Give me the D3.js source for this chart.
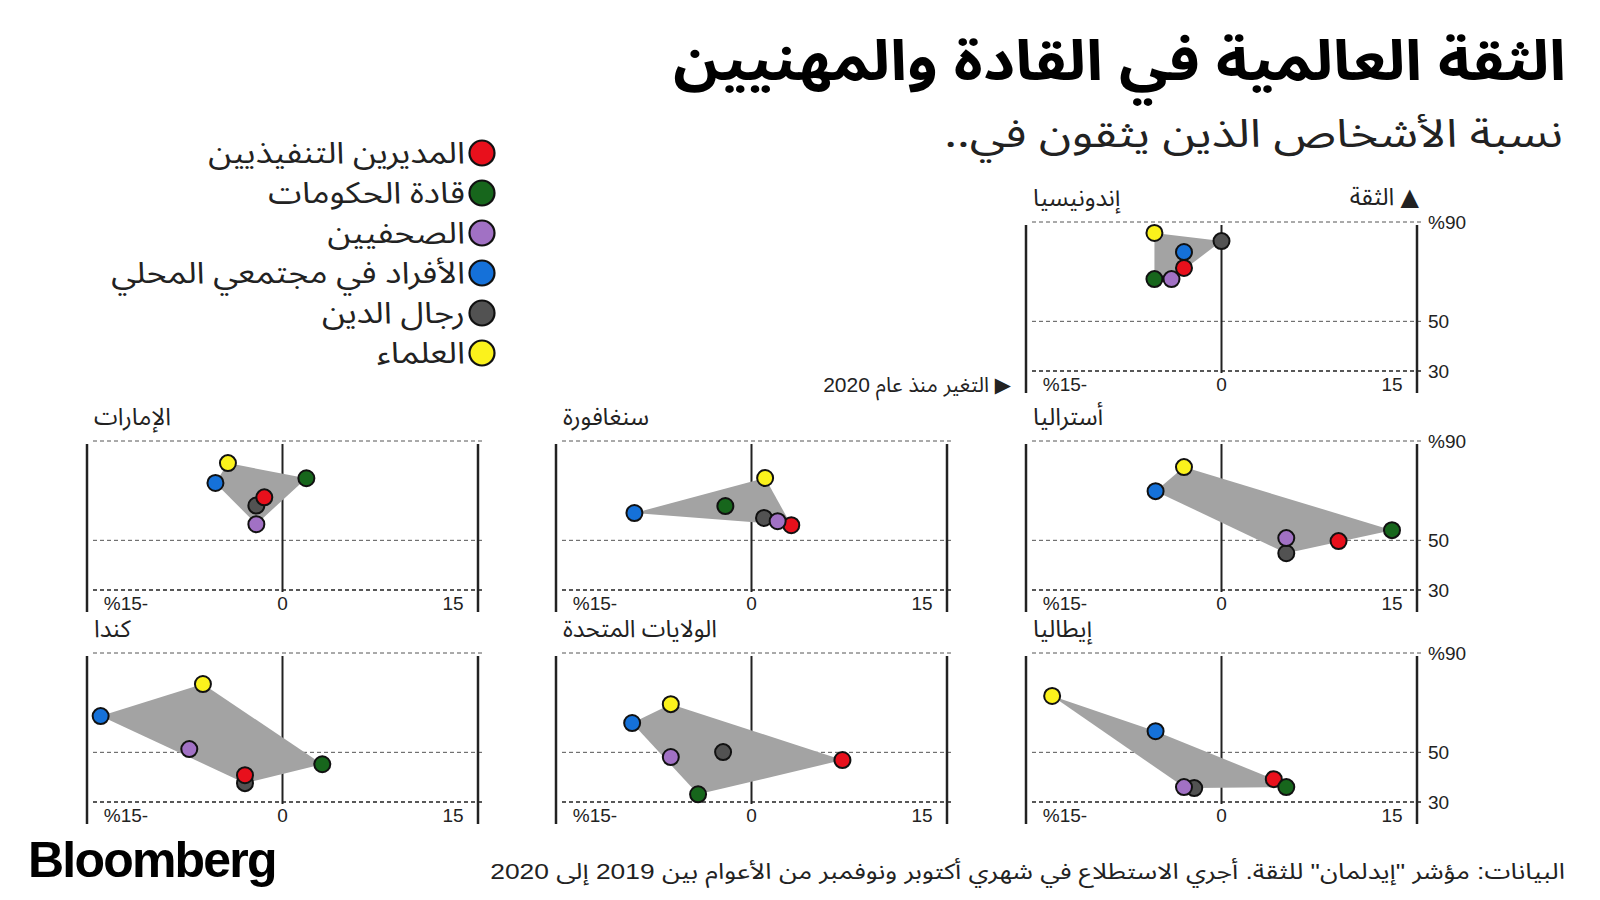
<!DOCTYPE html>
<html>
<head>
<meta charset="utf-8">
<script src="https://cdn.jsdelivr.net/npm/d3@7"></script>
<style>
  body { margin: 0; background: #fff; }
  svg { display: block; }
</style>
</head>
<body>
<svg id="chart" width="1600" height="900"></svg>
<script>
// categories (legend order) and their colours
const categories = ['المديرين التنفيذيين', 'قادة الحكومات', 'الصحفيين', 'الأفراد في مجتمعي المحلي', 'رجال الدين', 'العلماء'];
const catColors = ['#e8101c', '#17661c', '#a171c4', '#1571d9', '#525252', '#fbf21c'];

const countries = ['إندونيسيا', 'أستراليا', 'سنغافورة', 'الإمارات', 'إيطاليا', 'الولايات المتحدة', 'كندا'];

// change since 2020 (percentage points), one row per country, columns follow categories
const changeValues = [
  [-3.3, -5.9, -4.4, -3.3, 0, -5.9],
  [10.3, 15, 5.7, -5.8, 5.7, -3.3],
  [3.5, -2.3, 2.3, -10.3, 1.1, 1.2],
  [-1.6, 2.1, -2.3, -5.9, -2.3, -4.8],
  [4.6, 5.7, -3.3, -5.8, -2.4, -14.9],
  [8, -4.7, -7.1, -10.5, -2.5, -7.1],
  [-3.3, 3.5, -8.2, -16, -3.3, -7]
];
// share of people who trust (%)
const trustValues = [
  [71.5, 67, 67, 77.9, 82.3, 85.6],
  [49.7, 54.1, 50.9, 69.8, 44.8, 79.5],
  [56.1, 63.8, 57.7, 61, 59, 75.1],
  [67.3, 75, 56.5, 73.1, 64, 81.1],
  [39.2, 36, 36, 58.5, 35.6, 72.7],
  [46.9, 33.1, 48.1, 61.8, 50.1, 69.4],
  [40.8, 45.2, 51.3, 64.6, 37.6, 77.5]
];

const xTicks = [-15, 0, 15];
const xTickLabels = ['%15-', '0', '15'];
const yTicks = [90, 50, 30];
const yTickLabels = ['%90', '50', '30'];

// drawing order of dots (gray first, then red, green, purple, blue, yellow)
const drawOrder = [4, 0, 1, 2, 3, 5];

const AR = "'Noto Sans Arabic', 'DejaVu Sans', sans-serif";
const MIX = "'Liberation Sans', 'Noto Sans Arabic', 'DejaVu Sans', sans-serif";

// small stand-in for d3-selection-multi
d3.selection.prototype.attrs = function (obj) {
  Object.keys(obj).forEach(k => this.attr(k, obj[k]));
  return this;
};

main();

function main () {
  const svg = d3.select('#chart');
  drawHeader(svg);
  drawLegend(svg);

  // grid cell of every country: [row, col]
  const cells = [[0, 2], [1, 2], [1, 1], [1, 0], [2, 2], [2, 1], [2, 0]];
  const colLeft = [87, 556, 1026];
  const rowTop = [222, 441, 653];

  countries.forEach((name, i) => {
    const [r, c] = cells[i];
    drawPanel(svg, i, colLeft[c], rowTop[r], c === 2);
  });

  // axis captions around Indonesia
  svg.append('text').text('▲ الثقة').attrs({
    x: 1419, y: 205, direction: 'rtl', 'text-anchor': 'start',
    'font-size': '24px', 'font-family': AR, fill: '#222'
  });
  svg.append('text').text('▶ التغير منذ عام 2020').attrs({
    x: 1011, y: 392, direction: 'rtl', 'text-anchor': 'start',
    'font-size': '21px', 'font-family': MIX, fill: '#222'
  });

  drawFooter(svg);
}

// squeeze/stretch a text horizontally so it fills `target` px, keeping anchorX fixed
function fitWidth (sel, target, anchorX) {
  const w = sel.node().getComputedTextLength();
  if (!w) return;
  const sx = target / w;
  sel.attr('transform', `translate(${anchorX},0) scale(${sx},1) translate(${-anchorX},0)`);
}

function drawHeader (svg) {
  const title = svg.append('text').text('الثقة العالمية في القادة والمهنيين').attrs({
    x: 1566, y: 80, direction: 'rtl', 'text-anchor': 'start',
    'font-size': '56px', 'font-weight': 700, 'font-family': AR, fill: '#000'
  });
  fitWidth(title, 893, 1566);
  const sub = svg.append('text').text('نسبة الأشخاص الذين يثقون في..').attrs({
    x: 1563, y: 147, direction: 'rtl', 'text-anchor': 'start',
    'font-size': '39px', 'font-family': AR, fill: '#222'
  });
  fitWidth(sub, 619, 1563);
}

function drawLegend (svg) {
  categories.forEach((cat, i) => {
    const y = 153 + i * 40;
    svg.append('circle').attrs({
      cx: 482, cy: y, r: 12.5, fill: catColors[i], stroke: '#111', 'stroke-width': 2.2
    });
    const t = svg.append('text').text(cat).attrs({
      x: 465, y: y + 10, direction: 'rtl', 'text-anchor': 'start',
      'font-size': '30px', 'font-family': AR, fill: '#222'
    });
    fitWidth(t, t.node().getComputedTextLength() * 1.13, 465);
  });
}

function drawPanel (svg, idx, left, top, showY) {
  const width = 391;
  const x = d3.scaleLinear().domain([-17.2, 17.2]).range([left, left + width]);
  const y = d3.scaleLinear().domain([30, 90]).range([top + 149, top]);
  const g = svg.append('g');

  // dashed trust gridlines
  yTicks.forEach(t => {
    g.append('line').attrs({
      x1: left + 6, x2: left + width + 5, y1: y(t), y2: y(t),
      stroke: t === 30 ? '#222' : '#555', 'stroke-width': t === 30 ? 1.3 : 1,
      'stroke-dasharray': '4,3'
    });
  });

  // frame lines and zero line
  [left, left + width].forEach(px => {
    g.append('line').attrs({
      x1: px, x2: px, y1: top + 3, y2: y(30) + 22, stroke: '#222', 'stroke-width': 2.5
    });
  });
  g.append('line').attrs({
    x1: x(0), x2: x(0), y1: top + 3, y2: y(30) + 2, stroke: '#222', 'stroke-width': 2
  });

  // x tick labels
  xTicks.forEach((t, i) => {
    g.append('text').text(xTickLabels[i]).attrs({
      x: x(t) + (t < 0 ? 14 : 0), y: y(30) + 20, 'text-anchor': 'middle',
      'font-size': '19px', 'font-family': MIX, fill: '#222'
    });
  });

  if (showY) {
    yTicks.forEach((t, i) => {
      g.append('text').text(yTickLabels[i]).attrs({
        x: left + width + 11, y: y(t) + 7, 'text-anchor': 'start',
        'font-size': '19px', 'font-family': MIX, fill: '#222'
      });
    });
  }

  // country name
  g.append('text').text(countries[idx]).attrs({
    x: left + 7, y: top - 16, direction: 'rtl', 'text-anchor': 'end',
    'font-size': '24px', 'font-family': AR, fill: '#222'
  });

  const pts = changeValues[idx].map((v, k) => [x(v), y(trustValues[idx][k])]);
  const hull = d3.polygonHull(pts);
  g.append('path').attrs({
    d: 'M' + hull.join('L') + 'Z', fill: '#a3a3a3', stroke: 'none'
  });

  drawOrder.forEach(k => {
    g.append('circle').attrs({
      cx: pts[k][0], cy: pts[k][1], r: 8,
      fill: catColors[k], stroke: '#111', 'stroke-width': 2
    });
  });
}

function drawFooter (svg) {
  svg.append('text').text('Bloomberg').attrs({
    x: 28, y: 877, 'font-size': '50px', 'font-weight': 700,
    'letter-spacing': '-1.8px', 'font-family': "'Liberation Sans', Arial, sans-serif", fill: '#000'
  });
  const src = svg.append('text').text('البيانات: مؤشر "إيدلمان" للثقة. أجري الاستطلاع في شهري أكتوبر ونوفمبر من الأعوام بين 2019 إلى 2020').attrs({
    x: 1565, y: 879, direction: 'rtl', 'text-anchor': 'start',
    'font-size': '22px', 'font-family': MIX, fill: '#222'
  });
  fitWidth(src, 1075, 1565);
}
</script>
</body>
</html>
